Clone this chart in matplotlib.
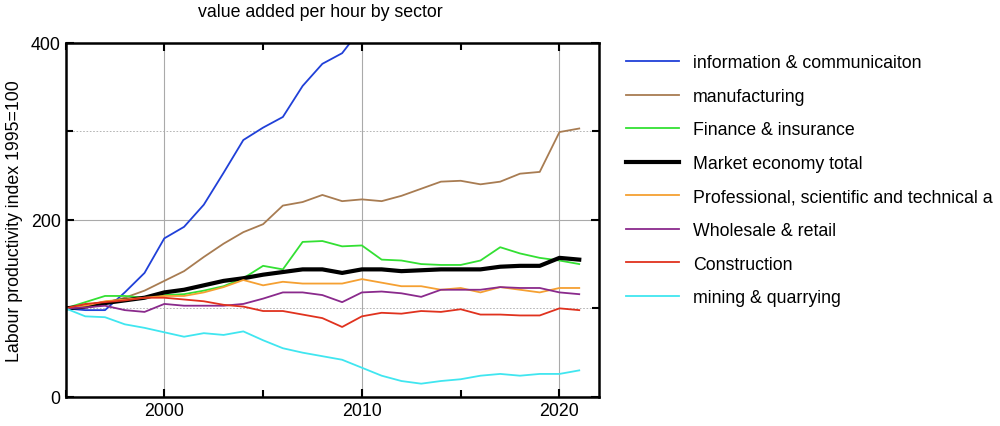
import matplotlib
matplotlib.use("Agg")
import matplotlib.pyplot as plt
from matplotlib.ticker import MultipleLocator

plt.rcParams["font.family"] = ["Liberation Sans", "DejaVu Sans"]

years = list(range(1995, 2022))

info_comm = [100, 98, 98, 118, 140, 179, 192, 217, 253, 290, 304, 316, 351, 376, 388, 417]
manufacturing = [100, 103, 106, 112, 120, 131, 142, 158, 173, 186, 195, 216, 220, 228, 221, 223,
                 221, 227, 235, 243, 244, 240, 243, 252, 254, 299, 303]
finance = [100, 107, 114, 114, 112, 115, 116, 120, 125, 134, 148, 144, 175, 176, 170, 171,
           155, 154, 150, 149, 149, 154, 169, 162, 157, 154, 150]
market_total = [100, 102, 106, 109, 112, 118, 121, 126, 131, 134, 138, 141, 144, 144, 140, 144,
                144, 142, 143, 144, 144, 144, 147, 148, 148, 157, 155]
professional = [100, 103, 108, 110, 112, 114, 114, 118, 124, 132, 126, 130, 128, 128, 128, 133,
                129, 125, 125, 121, 123, 118, 124, 121, 118, 123, 123]
wholesale = [100, 101, 103, 98, 96, 105, 103, 103, 103, 105, 111, 118, 118, 115, 107, 118,
             119, 117, 113, 121, 121, 121, 124, 123, 123, 118, 116]
construction = [100, 105, 107, 109, 112, 112, 110, 108, 104, 102, 97, 97, 93, 89, 79, 91,
                95, 94, 97, 96, 99, 93, 93, 92, 92, 100, 98]
mining = [100, 91, 90, 82, 78, 73, 68, 72, 70, 74, 64, 55, 50, 46, 42, 33,
          24, 18, 15, 18, 20, 24, 26, 24, 26, 26, 30]

series = [
    ("information & communicaiton", info_comm, "#2040d8", 1.3),
    ("manufacturing", manufacturing, "#a87c52", 1.3),
    ("Finance & insurance", finance, "#33e033", 1.3),
    ("Market economy total", market_total, "#000000", 3.0),
    ("Professional, scientific and technical a", professional, "#f5a032", 1.3),
    ("Wholesale & retail", wholesale, "#8a2a8c", 1.3),
    ("Construction", construction, "#e0321e", 1.3),
    ("mining & quarrying", mining, "#40e6f0", 1.3),
]

fig = plt.figure(figsize=(10, 4.27), dpi=100)
ax = fig.add_axes([0.0655, 0.068, 0.5335, 0.830])

for label, values, color, lw in series:
    ax.plot(years[:len(values)], values, color=color, linewidth=lw, label=label)

ax.set_xlim(1995, 2022)
ax.set_ylim(0, 400)
ax.xaxis.set_major_locator(MultipleLocator(10))
ax.xaxis.set_minor_locator(MultipleLocator(5))
ax.yaxis.set_major_locator(MultipleLocator(200))
ax.yaxis.set_minor_locator(MultipleLocator(100))
ax.tick_params(which="both", direction="in", top=True, right=True, labelsize=12.8,
               width=1.5, color="black")
ax.tick_params(which="major", length=6)
ax.tick_params(which="minor", length=5)
ax.grid(which="major", color="#aaaaaa", linewidth=0.8)
ax.grid(which="minor", axis="y", color="#aaaaaa", linewidth=0.6, linestyle=(0, (2, 2)))
for spine in ax.spines.values():
    spine.set_linewidth(1.8)

ax.set_ylabel("Labour productivity index 1995=100", fontsize=12.8)
ax.yaxis.set_label_coords(-0.08, 0.5)
fig.text(0.32, 0.97, "value added per hour by sector", ha="center", va="center", fontsize=12.8)

ax.legend(loc="upper left", bbox_to_anchor=(1.02, 1.012), frameon=False, fontsize=12.8,
          handlelength=3.0, handletextpad=0.8, labelspacing=0.93)

fig.savefig("out.png", dpi=100)
